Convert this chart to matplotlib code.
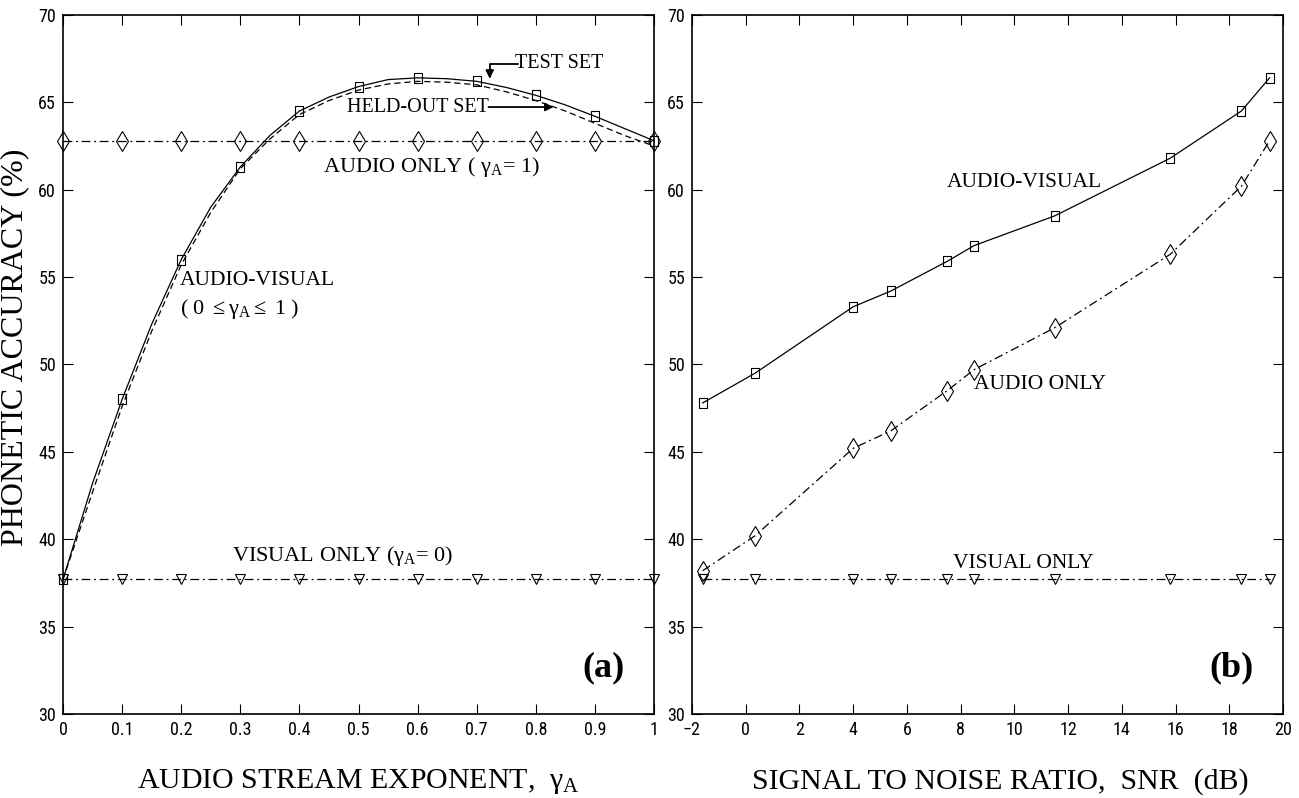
import numpy as np
import matplotlib.pyplot as plt
from matplotlib import font_manager

plt.rcParams['font.family'] = ['Liberation Serif', 'DejaVu Serif']
plt.rcParams['mathtext.fontset'] = 'custom'
plt.rcParams['mathtext.rm'] = 'Liberation Serif'
plt.rcParams['mathtext.it'] = 'Liberation Serif:italic'

# (a) audio stream exponent sweep, curve read every 0.05
gamma = [0.0, 0.05, 0.1, 0.15, 0.2, 0.25, 0.3, 0.35, 0.4, 0.45, 0.5,
         0.55, 0.6, 0.65, 0.7, 0.75, 0.8, 0.85, 0.9, 0.95, 1.0]
test_set = [37.7, 43.2, 48.0, 52.3, 56.0, 59.0, 61.3, 63.1, 64.5, 65.3, 65.9,
            66.3, 66.4, 66.35, 66.2, 65.85, 65.4, 64.85, 64.2, 63.5, 62.8]
held_out = [37.7, 42.7, 47.6, 51.9, 55.7, 58.7, 61.2, 62.9, 64.3, 65.1, 65.7,
            66.05, 66.2, 66.15, 66.0, 65.6, 65.1, 64.5, 63.8, 63.1, 62.5]
gamma_marks = [0.0, 0.1, 0.2, 0.3, 0.4, 0.5, 0.6, 0.7, 0.8, 0.9, 1.0]
audio_only_a = [62.8] * 11
visual_only_a = [37.7] * 11

# (b) SNR sweep
snr = [-1.6, 0.35, 4.0, 5.4, 7.5, 8.5, 11.5, 15.8, 18.45, 19.5]
av_snr = [47.8, 49.5, 53.3, 54.2, 55.9, 56.8, 58.5, 61.8, 64.5, 66.4]
audio_snr = [38.2, 40.2, 45.2, 46.2, 48.5, 49.7, 52.1, 56.3, 60.2, 62.8]
visual_snr = [37.7] * 10

xticks_a = [0, 0.1, 0.2, 0.3, 0.4, 0.5, 0.6, 0.7, 0.8, 0.9, 1]
xticklabels_a = ['0', '0.1', '0.2', '0.3', '0.4', '0.5', '0.6', '0.7', '0.8', '0.9', '1']
xticks_b = [-2, 0, 2, 4, 6, 8, 10, 12, 14, 16, 18, 20]
yticks = [30, 35, 40, 45, 50, 55, 60, 65, 70]

# narrow sans for the tick numbers if one is around
fonts = font_manager.fontManager.ttflist
names = {f.name for f in fonts}
tick_props = dict(family='Liberation Sans', stretch='normal')
for cand in ['Liberation Sans Narrow', 'Roboto Condensed', 'Open Sans Condensed',
             'Noto Sans Condensed']:
    if cand in names:
        tick_props = dict(family=cand, stretch='normal')
        break
else:
    if any(f.name == 'DejaVu Sans' and f.stretch == 'condensed' for f in fonts):
        tick_props = dict(family='DejaVu Sans', stretch='condensed')

dashdot = (0, (7, 3, 1.5, 3))
rect = [(-0.72, -1), (0.72, -1), (0.72, 1), (-0.72, 1), (-0.72, -1)]

fig = plt.figure(figsize=(12.99, 7.98), dpi=100)
ax1 = fig.add_axes([0.0485, 0.1053, 0.455, 0.876])
ax2 = fig.add_axes([0.5327, 0.1053, 0.455, 0.876])

sq = dict(marker=rect, ms=7.5, mfc='none', mec='k', mew=0.8, clip_on=False)
dm = dict(marker='d', ms=10.5, mfc='none', mec='k', mew=0.8, clip_on=False)
tr = dict(marker='v', ms=7, mfc='none', mec='k', mew=0.8, clip_on=False)

# panel (a)
ax1.plot(gamma, held_out, color='k', lw=0.9, ls=(0, (5, 3)), clip_on=False)
ax1.plot(gamma, test_set, color='k', lw=0.9, markevery=2, **sq)
ax1.plot(gamma_marks, audio_only_a, color='k', lw=0.9, ls=dashdot, **dm)
ax1.plot(gamma_marks, visual_only_a, color='k', lw=0.9, ls=dashdot, **tr)

ax1.text(0.765, 67.2, 'TEST SET', fontsize=14.5, va='center', ha='left')
ax1.annotate('', xy=(0.722, 66.35), xytext=(0.77, 67.2),
             arrowprops=dict(arrowstyle='-|>', color='k', lw=1.3,
                             connectionstyle='angle,angleA=180,angleB=90,rad=0',
                             shrinkA=0, shrinkB=0, mutation_scale=12))
ax1.text(0.48, 64.73, 'HELD-OUT SET', fontsize=14.5, va='center', ha='left')
ax1.annotate('', xy=(0.83, 64.73), xytext=(0.72, 64.73),
             arrowprops=dict(arrowstyle='-|>', color='k', lw=1.3,
                             shrinkA=0, shrinkB=0, mutation_scale=12))
ax1.text(0.44, 61.3, r'AUDIO ONLY ( $\mathrm{\gamma_{A}}$= 1)', fontsize=16,
         va='center', ha='left')
ax1.text(0.198, 54.8, 'AUDIO-VISUAL', fontsize=15.5, va='center', ha='left')
ax1.text(0.198, 53.2, r'( 0 $\leq\mathrm{\gamma_{A}}\leq$ 1 )', fontsize=16,
         va='center', ha='left')
ax1.text(0.286, 39.05, r'VISUAL ONLY ($\mathrm{\gamma_{A}}$= 0)', fontsize=16,
         va='center', ha='left')
ax1.text(0.95, 0.066, '(a)', transform=ax1.transAxes, fontsize=26,
         fontweight='bold', ha='right', va='center')

ax1.set_xlim(0, 1)
ax1.set_xticks(xticks_a)
ax1.set_xticklabels(xticklabels_a)
ax1.set_xlabel(r'AUDIO STREAM EXPONENT,  $\mathrm{\gamma_{A}}$', fontsize=21.5, labelpad=20)
ax1.set_ylabel('PHONETIC ACCURACY (%)', fontsize=23, labelpad=2)
ax1.yaxis.set_label_coords(-0.058, 0.524)

# panel (b)
ax2.plot(snr, av_snr, color='k', lw=0.9, **sq)
ax2.plot(snr, audio_snr, color='k', lw=0.9, ls=dashdot, **dm)
ax2.plot(snr, visual_snr, color='k', lw=0.9, ls=dashdot, **tr)

ax2.text(7.5, 60.4, 'AUDIO-VISUAL', fontsize=15.5, va='center', ha='left')
ax2.text(8.5, 48.85, 'AUDIO ONLY', fontsize=15.5, va='center', ha='left')
ax2.text(7.7, 38.6, 'VISUAL ONLY', fontsize=15.5, va='center', ha='left')
ax2.text(0.95, 0.066, '(b)', transform=ax2.transAxes, fontsize=26,
         fontweight='bold', ha='right', va='center')

ax2.set_xlim(-2, 20)
ax2.set_xticks(xticks_b)
ax2.set_xticklabels([str(t).replace('-', '\u2212') for t in xticks_b])
ax2.set_xlabel('SIGNAL TO NOISE RATIO,  SNR  (dB)', fontsize=21.5, labelpad=20)
ax2.xaxis.set_label_coords(0.522, -0.078)

for ax in (ax1, ax2):
    ax.set_ylim(30, 70)
    ax.set_yticks(yticks)
    ax.tick_params(direction='in', length=7, width=0.8, top=True, right=True,
                   labelsize=13, pad=5)
    for lab in ax.get_xticklabels() + ax.get_yticklabels():
        lab.set_family(tick_props['family'])
        lab.set_stretch(tick_props['stretch'])
    for s in ax.spines.values():
        s.set_linewidth(1.2)

plt.savefig('out.png', dpi=100)
